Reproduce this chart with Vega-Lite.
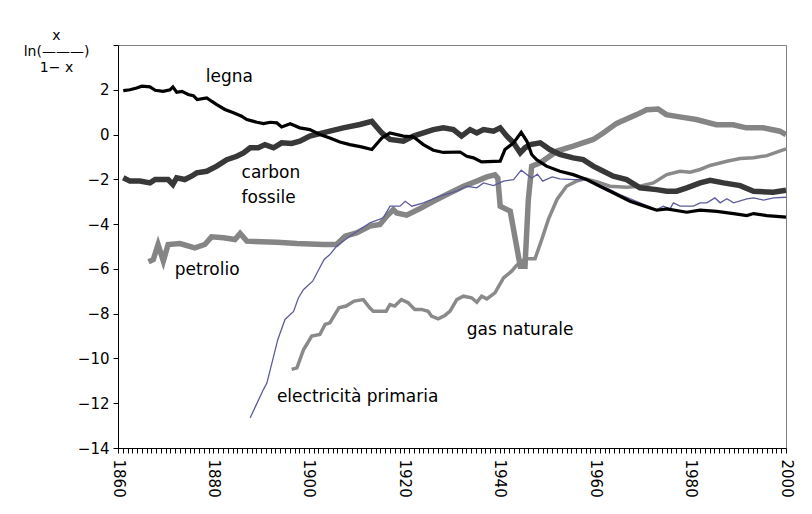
{
  "$schema": "https://vega.github.io/schema/vega-lite/v6.json",
  "autosize": {"type": "none"},
  "width": 668,
  "height": 403,
  "padding": {"left": 118, "top": 45, "right": 26, "bottom": 66},
  "background": "white",
  "config": {
    "view": {"stroke": "#808080", "strokeWidth": 1},
    "font": "DejaVu Sans",
    "axis": {"grid": false, "domainColor": "#000000", "tickColor": "#000000", "tickOpacity": 1, "tickWidth": 1, "labelColor": "#000000", "titleColor": "#000000", "labelFont": "DejaVu Sans", "titleFont": "DejaVu Sans", "titleFontWeight": "normal"}
  },
  "datasets": {
    "series": [
      {"s": "legna", "year": 1861.1, "v": 1.96}, {"s": "legna", "year": 1862.5, "v": 2.0}, {"s": "legna", "year": 1863.9, "v": 2.08}, {"s": "legna", "year": 1865.0, "v": 2.16}, {"s": "legna", "year": 1866.7, "v": 2.13}, {"s": "legna", "year": 1867.8, "v": 1.98}, {"s": "legna", "year": 1869.5, "v": 1.93}, {"s": "legna", "year": 1870.9, "v": 2.0}, {"s": "legna", "year": 1871.5, "v": 2.13}, {"s": "legna", "year": 1872.3, "v": 1.89}, {"s": "legna", "year": 1873.4, "v": 1.93}, {"s": "legna", "year": 1874.7, "v": 1.79}, {"s": "legna", "year": 1875.8, "v": 1.74}, {"s": "legna", "year": 1876.6, "v": 1.56}, {"s": "legna", "year": 1878.6, "v": 1.64}, {"s": "legna", "year": 1879.6, "v": 1.49}, {"s": "legna", "year": 1880.7, "v": 1.34}, {"s": "legna", "year": 1882.4, "v": 1.12}, {"s": "legna", "year": 1884.2, "v": 0.97}, {"s": "legna", "year": 1885.9, "v": 0.82}, {"s": "legna", "year": 1887.0, "v": 0.67}, {"s": "legna", "year": 1889.1, "v": 0.55}, {"s": "legna", "year": 1890.5, "v": 0.49}, {"s": "legna", "year": 1891.9, "v": 0.55}, {"s": "legna", "year": 1893.3, "v": 0.52}, {"s": "legna", "year": 1894.3, "v": 0.34}, {"s": "legna", "year": 1896.1, "v": 0.48}, {"s": "legna", "year": 1898.1, "v": 0.3}, {"s": "legna", "year": 1900.2, "v": 0.22}, {"s": "legna", "year": 1902.3, "v": 0.0}, {"s": "legna", "year": 1904.4, "v": -0.15}, {"s": "legna", "year": 1906.5, "v": -0.33}, {"s": "legna", "year": 1908.6, "v": -0.45}, {"s": "legna", "year": 1911.0, "v": -0.55}, {"s": "legna", "year": 1913.2, "v": -0.67}, {"s": "legna", "year": 1915.3, "v": -0.15}, {"s": "legna", "year": 1917.0, "v": 0.07}, {"s": "legna", "year": 1919.8, "v": -0.07}, {"s": "legna", "year": 1921.9, "v": -0.1}, {"s": "legna", "year": 1924.0, "v": -0.45}, {"s": "legna", "year": 1926.1, "v": -0.7}, {"s": "legna", "year": 1928.2, "v": -0.8}, {"s": "legna", "year": 1931.7, "v": -0.78}, {"s": "legna", "year": 1933.1, "v": -0.97}, {"s": "legna", "year": 1934.5, "v": -1.04}, {"s": "legna", "year": 1936.2, "v": -1.22}, {"s": "legna", "year": 1940.1, "v": -1.19}, {"s": "legna", "year": 1941.1, "v": -0.67}, {"s": "legna", "year": 1942.9, "v": -0.37}, {"s": "legna", "year": 1944.5, "v": 0.1}, {"s": "legna", "year": 1945.7, "v": -0.3}, {"s": "legna", "year": 1946.7, "v": -0.89}, {"s": "legna", "year": 1947.7, "v": -1.12}, {"s": "legna", "year": 1949.8, "v": -1.41}, {"s": "legna", "year": 1952.6, "v": -1.64}, {"s": "legna", "year": 1955.4, "v": -1.79}, {"s": "legna", "year": 1958.2, "v": -2.01}, {"s": "legna", "year": 1961.0, "v": -2.31}, {"s": "legna", "year": 1964.5, "v": -2.68}, {"s": "legna", "year": 1967.3, "v": -2.98}, {"s": "legna", "year": 1969.4, "v": -3.13}, {"s": "legna", "year": 1972.9, "v": -3.38}, {"s": "legna", "year": 1975.0, "v": -3.32}, {"s": "legna", "year": 1979.2, "v": -3.47}, {"s": "legna", "year": 1982.0, "v": -3.38}, {"s": "legna", "year": 1985.5, "v": -3.43}, {"s": "legna", "year": 1989.0, "v": -3.53}, {"s": "legna", "year": 1991.8, "v": -3.62}, {"s": "legna", "year": 1993.2, "v": -3.53}, {"s": "legna", "year": 1996.0, "v": -3.62}, {"s": "legna", "year": 2000.0, "v": -3.69},

      {"s": "carbon", "year": 1861.1, "v": -1.93}, {"s": "carbon", "year": 1862.5, "v": -2.08}, {"s": "carbon", "year": 1864.6, "v": -2.08}, {"s": "carbon", "year": 1866.7, "v": -2.16}, {"s": "carbon", "year": 1867.8, "v": -2.01}, {"s": "carbon", "year": 1870.5, "v": -2.01}, {"s": "carbon", "year": 1871.5, "v": -2.23}, {"s": "carbon", "year": 1872.3, "v": -1.93}, {"s": "carbon", "year": 1874.0, "v": -2.01}, {"s": "carbon", "year": 1875.4, "v": -1.86}, {"s": "carbon", "year": 1876.5, "v": -1.71}, {"s": "carbon", "year": 1878.6, "v": -1.64}, {"s": "carbon", "year": 1880.7, "v": -1.41}, {"s": "carbon", "year": 1882.8, "v": -1.12}, {"s": "carbon", "year": 1884.9, "v": -0.97}, {"s": "carbon", "year": 1886.3, "v": -0.82}, {"s": "carbon", "year": 1887.7, "v": -0.59}, {"s": "carbon", "year": 1889.4, "v": -0.59}, {"s": "carbon", "year": 1890.8, "v": -0.45}, {"s": "carbon", "year": 1892.6, "v": -0.59}, {"s": "carbon", "year": 1894.3, "v": -0.37}, {"s": "carbon", "year": 1896.4, "v": -0.4}, {"s": "carbon", "year": 1898.1, "v": -0.3}, {"s": "carbon", "year": 1900.2, "v": -0.07}, {"s": "carbon", "year": 1904.4, "v": 0.15}, {"s": "carbon", "year": 1907.2, "v": 0.3}, {"s": "carbon", "year": 1910.7, "v": 0.45}, {"s": "carbon", "year": 1913.2, "v": 0.59}, {"s": "carbon", "year": 1915.3, "v": 0.07}, {"s": "carbon", "year": 1917.0, "v": -0.22}, {"s": "carbon", "year": 1919.8, "v": -0.3}, {"s": "carbon", "year": 1921.9, "v": -0.07}, {"s": "carbon", "year": 1924.0, "v": 0.07}, {"s": "carbon", "year": 1926.1, "v": 0.22}, {"s": "carbon", "year": 1928.2, "v": 0.3}, {"s": "carbon", "year": 1930.3, "v": 0.22}, {"s": "carbon", "year": 1932.0, "v": -0.07}, {"s": "carbon", "year": 1933.8, "v": 0.22}, {"s": "carbon", "year": 1935.2, "v": 0.07}, {"s": "carbon", "year": 1936.6, "v": 0.22}, {"s": "carbon", "year": 1938.7, "v": 0.15}, {"s": "carbon", "year": 1940.1, "v": 0.3}, {"s": "carbon", "year": 1941.5, "v": -0.07}, {"s": "carbon", "year": 1942.9, "v": -0.37}, {"s": "carbon", "year": 1944.3, "v": -0.82}, {"s": "carbon", "year": 1945.3, "v": -0.59}, {"s": "carbon", "year": 1946.4, "v": -0.45}, {"s": "carbon", "year": 1948.5, "v": -0.37}, {"s": "carbon", "year": 1950.5, "v": -0.67}, {"s": "carbon", "year": 1952.6, "v": -0.89}, {"s": "carbon", "year": 1955.4, "v": -1.04}, {"s": "carbon", "year": 1957.5, "v": -1.12}, {"s": "carbon", "year": 1959.6, "v": -1.41}, {"s": "carbon", "year": 1961.0, "v": -1.56}, {"s": "carbon", "year": 1963.8, "v": -1.86}, {"s": "carbon", "year": 1966.6, "v": -2.01}, {"s": "carbon", "year": 1969.4, "v": -2.38}, {"s": "carbon", "year": 1972.9, "v": -2.46}, {"s": "carbon", "year": 1975.0, "v": -2.53}, {"s": "carbon", "year": 1977.1, "v": -2.53}, {"s": "carbon", "year": 1979.2, "v": -2.38}, {"s": "carbon", "year": 1982.0, "v": -2.16}, {"s": "carbon", "year": 1984.1, "v": -2.04}, {"s": "carbon", "year": 1986.9, "v": -2.16}, {"s": "carbon", "year": 1990.4, "v": -2.28}, {"s": "carbon", "year": 1993.2, "v": -2.53}, {"s": "carbon", "year": 1997.3, "v": -2.58}, {"s": "carbon", "year": 2000.0, "v": -2.49},

      {"s": "petrolio", "year": 1866.4, "v": -5.68}, {"s": "petrolio", "year": 1867.4, "v": -5.58}, {"s": "petrolio", "year": 1868.4, "v": -4.91}, {"s": "petrolio", "year": 1869.5, "v": -5.65}, {"s": "petrolio", "year": 1870.5, "v": -4.91}, {"s": "petrolio", "year": 1873.0, "v": -4.87}, {"s": "petrolio", "year": 1876.1, "v": -5.06}, {"s": "petrolio", "year": 1878.2, "v": -4.91}, {"s": "petrolio", "year": 1879.6, "v": -4.57}, {"s": "petrolio", "year": 1882.1, "v": -4.61}, {"s": "petrolio", "year": 1884.5, "v": -4.69}, {"s": "petrolio", "year": 1885.6, "v": -4.42}, {"s": "petrolio", "year": 1887.0, "v": -4.76}, {"s": "petrolio", "year": 1893.3, "v": -4.81}, {"s": "petrolio", "year": 1897.5, "v": -4.87}, {"s": "petrolio", "year": 1903.1, "v": -4.91}, {"s": "petrolio", "year": 1905.8, "v": -4.91}, {"s": "petrolio", "year": 1907.6, "v": -4.54}, {"s": "petrolio", "year": 1910.0, "v": -4.39}, {"s": "petrolio", "year": 1912.8, "v": -4.09}, {"s": "petrolio", "year": 1914.9, "v": -4.02}, {"s": "petrolio", "year": 1916.3, "v": -3.65}, {"s": "petrolio", "year": 1917.7, "v": -3.35}, {"s": "petrolio", "year": 1918.4, "v": -3.5}, {"s": "petrolio", "year": 1920.5, "v": -3.6}, {"s": "petrolio", "year": 1923.3, "v": -3.3}, {"s": "petrolio", "year": 1926.1, "v": -2.98}, {"s": "petrolio", "year": 1928.9, "v": -2.68}, {"s": "petrolio", "year": 1932.4, "v": -2.31}, {"s": "petrolio", "year": 1935.2, "v": -2.08}, {"s": "petrolio", "year": 1937.3, "v": -1.89}, {"s": "petrolio", "year": 1939.0, "v": -1.8}, {"s": "petrolio", "year": 1939.6, "v": -1.95}, {"s": "petrolio", "year": 1940.1, "v": -3.2}, {"s": "petrolio", "year": 1942.2, "v": -3.42}, {"s": "petrolio", "year": 1944.3, "v": -5.88}, {"s": "petrolio", "year": 1945.3, "v": -5.88}, {"s": "petrolio", "year": 1946.0, "v": -2.9}, {"s": "petrolio", "year": 1946.7, "v": -1.41}, {"s": "petrolio", "year": 1948.5, "v": -1.26}, {"s": "petrolio", "year": 1952.0, "v": -0.74}, {"s": "petrolio", "year": 1955.4, "v": -0.52}, {"s": "petrolio", "year": 1959.6, "v": -0.22}, {"s": "petrolio", "year": 1961.7, "v": 0.07}, {"s": "petrolio", "year": 1964.5, "v": 0.5}, {"s": "petrolio", "year": 1968.7, "v": 0.89}, {"s": "petrolio", "year": 1970.8, "v": 1.11}, {"s": "petrolio", "year": 1973.2, "v": 1.14}, {"s": "petrolio", "year": 1974.9, "v": 0.89}, {"s": "petrolio", "year": 1977.7, "v": 0.79}, {"s": "petrolio", "year": 1981.2, "v": 0.67}, {"s": "petrolio", "year": 1985.4, "v": 0.44}, {"s": "petrolio", "year": 1988.9, "v": 0.44}, {"s": "petrolio", "year": 1991.7, "v": 0.3}, {"s": "petrolio", "year": 1995.2, "v": 0.3}, {"s": "petrolio", "year": 1998.7, "v": 0.15}, {"s": "petrolio", "year": 2000.0, "v": 0.0},

      {"s": "gas", "year": 1896.4, "v": -10.49}, {"s": "gas", "year": 1897.5, "v": -10.42}, {"s": "gas", "year": 1898.9, "v": -9.6}, {"s": "gas", "year": 1900.6, "v": -9.0}, {"s": "gas", "year": 1902.3, "v": -8.93}, {"s": "gas", "year": 1903.4, "v": -8.48}, {"s": "gas", "year": 1904.4, "v": -8.41}, {"s": "gas", "year": 1906.3, "v": -7.74}, {"s": "gas", "year": 1907.8, "v": -7.66}, {"s": "gas", "year": 1909.5, "v": -7.44}, {"s": "gas", "year": 1911.4, "v": -7.37}, {"s": "gas", "year": 1912.8, "v": -7.75}, {"s": "gas", "year": 1913.5, "v": -7.89}, {"s": "gas", "year": 1916.2, "v": -7.89}, {"s": "gas", "year": 1917.0, "v": -7.59}, {"s": "gas", "year": 1918.0, "v": -7.66}, {"s": "gas", "year": 1919.4, "v": -7.37}, {"s": "gas", "year": 1920.8, "v": -7.51}, {"s": "gas", "year": 1922.2, "v": -7.81}, {"s": "gas", "year": 1923.6, "v": -7.81}, {"s": "gas", "year": 1925.0, "v": -7.89}, {"s": "gas", "year": 1925.7, "v": -8.11}, {"s": "gas", "year": 1927.1, "v": -8.23}, {"s": "gas", "year": 1928.5, "v": -8.08}, {"s": "gas", "year": 1929.6, "v": -7.89}, {"s": "gas", "year": 1931.0, "v": -7.37}, {"s": "gas", "year": 1932.4, "v": -7.22}, {"s": "gas", "year": 1934.1, "v": -7.29}, {"s": "gas", "year": 1935.2, "v": -7.49}, {"s": "gas", "year": 1936.2, "v": -7.22}, {"s": "gas", "year": 1937.3, "v": -7.34}, {"s": "gas", "year": 1939.0, "v": -7.07}, {"s": "gas", "year": 1940.8, "v": -6.4}, {"s": "gas", "year": 1942.5, "v": -6.1}, {"s": "gas", "year": 1943.5, "v": -5.85}, {"s": "gas", "year": 1945.3, "v": -5.55}, {"s": "gas", "year": 1947.4, "v": -5.55}, {"s": "gas", "year": 1948.8, "v": -4.69}, {"s": "gas", "year": 1950.2, "v": -3.79}, {"s": "gas", "year": 1952.0, "v": -2.9}, {"s": "gas", "year": 1954.0, "v": -2.31}, {"s": "gas", "year": 1956.1, "v": -2.08}, {"s": "gas", "year": 1957.9, "v": -1.98}, {"s": "gas", "year": 1960.3, "v": -2.1}, {"s": "gas", "year": 1963.1, "v": -2.31}, {"s": "gas", "year": 1966.6, "v": -2.35}, {"s": "gas", "year": 1969.4, "v": -2.31}, {"s": "gas", "year": 1972.2, "v": -2.16}, {"s": "gas", "year": 1975.0, "v": -1.79}, {"s": "gas", "year": 1977.8, "v": -1.64}, {"s": "gas", "year": 1979.9, "v": -1.68}, {"s": "gas", "year": 1982.0, "v": -1.56}, {"s": "gas", "year": 1984.1, "v": -1.38}, {"s": "gas", "year": 1987.6, "v": -1.19}, {"s": "gas", "year": 1990.4, "v": -1.07}, {"s": "gas", "year": 1993.2, "v": -1.04}, {"s": "gas", "year": 1996.0, "v": -0.94}, {"s": "gas", "year": 2000.0, "v": -0.64},

      {"s": "elettricita", "year": 1887.7, "v": -12.65}, {"s": "elettricita", "year": 1890.5, "v": -11.38}, {"s": "elettricita", "year": 1891.2, "v": -11.1}, {"s": "elettricita", "year": 1893.5, "v": -9.15}, {"s": "elettricita", "year": 1895.0, "v": -8.26}, {"s": "elettricita", "year": 1896.8, "v": -7.9}, {"s": "elettricita", "year": 1897.8, "v": -7.3}, {"s": "elettricita", "year": 1898.9, "v": -6.92}, {"s": "elettricita", "year": 1900.8, "v": -6.55}, {"s": "elettricita", "year": 1903.2, "v": -5.58}, {"s": "elettricita", "year": 1904.4, "v": -5.36}, {"s": "elettricita", "year": 1905.8, "v": -4.99}, {"s": "elettricita", "year": 1908.6, "v": -4.54}, {"s": "elettricita", "year": 1912.8, "v": -3.94}, {"s": "elettricita", "year": 1915.6, "v": -3.72}, {"s": "elettricita", "year": 1917.0, "v": -3.2}, {"s": "elettricita", "year": 1919.1, "v": -3.2}, {"s": "elettricita", "year": 1920.2, "v": -2.98}, {"s": "elettricita", "year": 1921.6, "v": -3.2}, {"s": "elettricita", "year": 1924.0, "v": -3.05}, {"s": "elettricita", "year": 1927.5, "v": -2.75}, {"s": "elettricita", "year": 1931.0, "v": -2.53}, {"s": "elettricita", "year": 1933.1, "v": -2.31}, {"s": "elettricita", "year": 1935.2, "v": -2.38}, {"s": "elettricita", "year": 1936.6, "v": -2.16}, {"s": "elettricita", "year": 1938.7, "v": -2.28}, {"s": "elettricita", "year": 1940.8, "v": -2.08}, {"s": "elettricita", "year": 1942.9, "v": -2.01}, {"s": "elettricita", "year": 1944.5, "v": -1.59}, {"s": "elettricita", "year": 1946.7, "v": -1.95}, {"s": "elettricita", "year": 1947.9, "v": -1.77}, {"s": "elettricita", "year": 1949.0, "v": -2.08}, {"s": "elettricita", "year": 1951.0, "v": -1.89}, {"s": "elettricita", "year": 1952.6, "v": -1.98}, {"s": "elettricita", "year": 1955.4, "v": -2.01}, {"s": "elettricita", "year": 1957.9, "v": -2.01}, {"s": "elettricita", "year": 1959.6, "v": -2.16}, {"s": "elettricita", "year": 1962.4, "v": -2.38}, {"s": "elettricita", "year": 1965.2, "v": -2.68}, {"s": "elettricita", "year": 1969.4, "v": -3.05}, {"s": "elettricita", "year": 1972.9, "v": -3.35}, {"s": "elettricita", "year": 1974.3, "v": -3.2}, {"s": "elettricita", "year": 1975.7, "v": -3.32}, {"s": "elettricita", "year": 1976.4, "v": -3.05}, {"s": "elettricita", "year": 1977.8, "v": -3.2}, {"s": "elettricita", "year": 1980.6, "v": -3.2}, {"s": "elettricita", "year": 1982.0, "v": -3.05}, {"s": "elettricita", "year": 1983.4, "v": -3.05}, {"s": "elettricita", "year": 1985.1, "v": -2.83}, {"s": "elettricita", "year": 1986.2, "v": -3.05}, {"s": "elettricita", "year": 1987.6, "v": -2.87}, {"s": "elettricita", "year": 1989.0, "v": -3.05}, {"s": "elettricita", "year": 1991.8, "v": -2.87}, {"s": "elettricita", "year": 1993.2, "v": -2.83}, {"s": "elettricita", "year": 1995.3, "v": -2.93}, {"s": "elettricita", "year": 1997.4, "v": -2.83}, {"s": "elettricita", "year": 2000.0, "v": -2.8}
    ],
    "labels": [
      {"t": "legna", "year": 1878.4, "v": 2.59},
      {"t": "carbon", "year": 1885.9, "v": -1.72},
      {"t": "fossile", "year": 1885.9, "v": -2.85},
      {"t": "petrolio", "year": 1871.9, "v": -6.03},
      {"t": "electricità primaria", "year": 1893.3, "v": -11.72},
      {"t": "gas naturale", "year": 1933.1, "v": -8.75}
    ]
  },
  "encoding": {
    "x": {"field": "year", "type": "quantitative", "scale": {"domain": [1860, 2000], "nice": false, "zero": false},
      "axis": {"title": null, "values": [1860,1861,1862,1863,1864,1865,1866,1867,1868,1869,1870,1871,1872,1873,1874,1875,1876,1877,1878,1879,1880,1881,1882,1883,1884,1885,1886,1887,1888,1889,1890,1891,1892,1893,1894,1895,1896,1897,1898,1899,1900,1901,1902,1903,1904,1905,1906,1907,1908,1909,1910,1911,1912,1913,1914,1915,1916,1917,1918,1919,1920,1921,1922,1923,1924,1925,1926,1927,1928,1929,1930,1931,1932,1933,1934,1935,1936,1937,1938,1939,1940,1941,1942,1943,1944,1945,1946,1947,1948,1949,1950,1951,1952,1953,1954,1955,1956,1957,1958,1959,1960,1961,1962,1963,1964,1965,1966,1967,1968,1969,1970,1971,1972,1973,1974,1975,1976,1977,1978,1979,1980,1981,1982,1983,1984,1985,1986,1987,1988,1989,1990,1991,1992,1993,1994,1995,1996,1997,1998,1999,2000], "format": "d", "labelExpr": "datum.value % 20 === 0 ? datum.label : ''", "labelAngle": 90, "labelOverlap": false, "labelFlush": false, "labelBound": false, "tickSize": 5, "labelPadding": 6, "labelFontSize": 15}},
    "y": {"field": "v", "type": "quantitative", "scale": {"domain": [-14, 4], "nice": false, "zero": false},
      "axis": {"values": [-14, -12, -10, -8, -6, -4, -2, 0, 2, 4], "labelExpr": "datum.value === 4 ? '' : datum.label", "tickSize": 5, "labelPadding": 4, "labelFontSize": 15,
        "title": ["\u00a0\u00a0\u00a0\u00a0\u00a0x", "ln(\u2014\u2014\u2014)", "\u00a0\u00a0\u00a0\u00a01\u2212 x"], "titleAngle": 0, "titleAlign": "center", "titleBaseline": "top", "titleX": -62, "titleY": -17, "titleFontSize": 14, "titleLineHeight": 16}}
  },
  "layer": [
    {"data": {"name": "series"}, "transform": [{"filter": "datum.s === 'gas'"}], "mark": {"type": "line", "color": "#8a8a8a", "strokeWidth": 3.5}},
    {"data": {"name": "series"}, "transform": [{"filter": "datum.s === 'petrolio'"}], "mark": {"type": "line", "color": "#858585", "strokeWidth": 5.5}},
    {"data": {"name": "series"}, "transform": [{"filter": "datum.s === 'carbon'"}], "mark": {"type": "line", "color": "#383838", "strokeWidth": 5.5}},
    {"data": {"name": "series"}, "transform": [{"filter": "datum.s === 'elettricita'"}], "mark": {"type": "line", "color": "#5c5c9c", "strokeWidth": 1.3}},
    {"data": {"name": "series"}, "transform": [{"filter": "datum.s === 'legna'"}], "mark": {"type": "line", "color": "#000000", "strokeWidth": 3.2}},
    {"data": {"name": "labels"}, "mark": {"type": "text", "align": "left", "baseline": "middle", "font": "DejaVu Sans", "fontSize": 17, "color": "#000000"}, "encoding": {"text": {"field": "t"}}}
  ]
}
